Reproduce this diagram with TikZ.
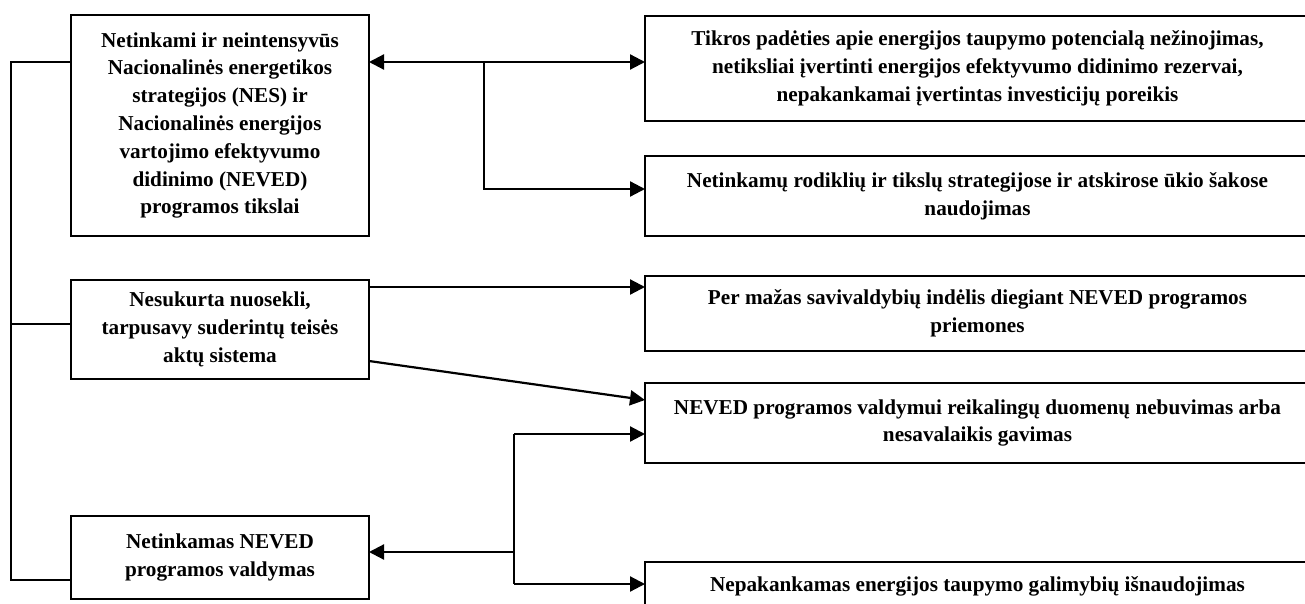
\documentclass[tikz,border=0pt]{standalone}
\usepackage{fontspec}
\setmainfont{Liberation Serif}
\usetikzlibrary{arrows.meta,calc}
\begin{document}
\begin{tikzpicture}[x=1pt,y=-1pt,line join=miter,
  box/.style={draw,line width=2pt,inner sep=0pt,outer sep=0pt,align=center,
    font=\fontsize{21.2}{27.8}\selectfont\bfseries},
  lbox/.style={box,minimum width=298pt},
  rbox/.style={box,minimum width=665pt},
  arr/.style={line width=2.2pt,-{Triangle[length=15pt,width=15pt]}},
  darr/.style={line width=2.2pt,{Triangle[length=15pt,width=15pt]}-{Triangle[length=15pt,width=15pt]}},
  plain/.style={line width=2.2pt},
  frame/.style={line width=1.6pt}]
\useasboundingbox (0,0) rectangle (1305,604);

% left boxes
\node[lbox,minimum height=221pt] (L1) at (220,125.5)
  {Netinkami ir neintensyvūs\\Nacionalinės energetikos\\strategijos (NES) ir\\Nacionalinės energijos\\vartojimo efektyvumo\\didinimo (NEVED)\\programos tikslai};
\node[lbox,minimum height=99pt] (L2) at (220,329.5)
  {Nesukurta nuosekli,\\tarpusavy suderintų teisės\\aktų sistema};
\node[lbox,minimum height=83pt] (L3) at (220,557.5)
  {Netinkamas NEVED\\programos valdymas};

% right boxes
\node[rbox,minimum height=105pt] (R1) at (977.5,68.5)
  {Tikros padėties apie energijos taupymo potencialą nežinojimas,\\netiksliai įvertinti energijos efektyvumo didinimo rezervai,\\nepakankamai įvertintas investicijų poreikis};
\node[rbox,minimum height=80pt] (R2) at (977.5,196)
  {Netinkamų rodiklių ir tikslų strategijose ir atskirose ūkio šakose\\naudojimas};
\node[rbox,minimum height=75pt] (R3) at (977.5,313.5)
  {Per mažas savivaldybių indėlis diegiant NEVED programos\\priemones};
\node[rbox,minimum height=80pt] (R4) at (977.5,423)
  {NEVED programos valdymui reikalingų duomenų nebuvimas arba\\nesavalaikis gavimas};
\node[rbox,minimum height=48pt] (R5) at (977.5,586)
  {Nepakankamas energijos taupymo galimybių išnaudojimas};

% connector points
\coordinate (a1) at ([yshift=-47pt]L1.north east);
\coordinate (b1) at (a1 -| R1.west);
\coordinate (j1) at (484,62);
\coordinate (j2) at (484,189);
\coordinate (b2) at (j2 -| R2.west);

\coordinate (a2) at ([yshift=-7pt]L2.north east);
\coordinate (b3) at (a2 -| R3.west);
\coordinate (a3) at ([yshift=18pt]L2.south east);
\coordinate (b4) at ([yshift=-17pt]R4.north west);

\coordinate (k1) at (514,434);
\coordinate (k2) at (514,552);
\coordinate (k3) at (514,584);
\coordinate (b5) at (k1 -| R4.west);
\coordinate (a4) at (k2 -| L3.east);
\coordinate (b6) at (k3 -| R5.west);

% connectors
\draw[darr] (a1) -- (b1);
\draw[arr] (j1) -- (j2) -- (b2);
\draw[arr] (a2) -- (b3);
\draw[arr] (a3) -- (b4);
\draw[plain] (k1) -- (k3);
\draw[arr] (k1) -- (b5);
\draw[arr] (k2) -- (a4);
\draw[arr] (k3) -- (b6);

% left frame line
\coordinate (f1) at ([yshift=-47pt]L1.north west);
\coordinate (f2) at ([yshift=5.5pt]L2.west);
\coordinate (f3) at ([yshift=-22.5pt]L3.west);
\draw[frame] (f1) -- (11,62) -- (11,580) -- (f3);
\draw[frame] (11,324) -- (f2);
\end{tikzpicture}
\end{document}
